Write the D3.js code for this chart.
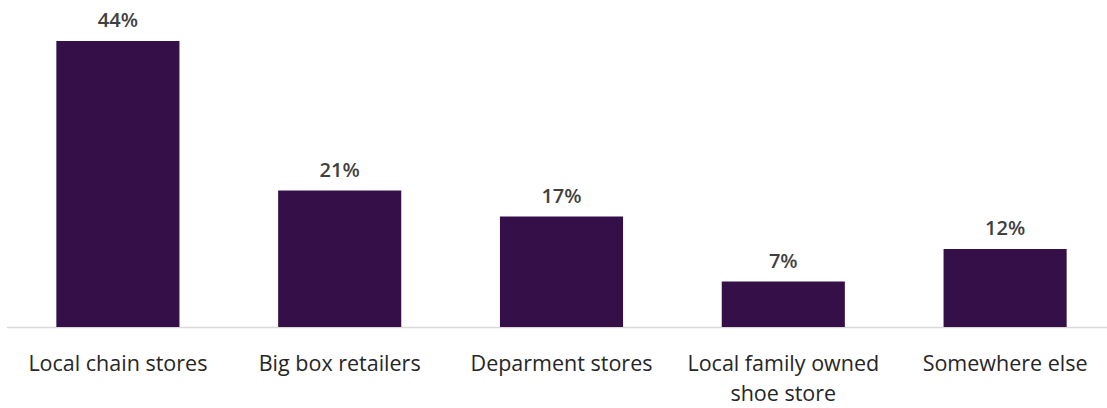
<!DOCTYPE html>
<html>
<head>
<meta charset="utf-8">
<script src="https://cdn.jsdelivr.net/npm/d3@7"></script>
<style>
  html, body { margin: 0; padding: 0; background: #fff; }
  svg { display: block; }
</style>
</head>
<body>
<svg id="chart" width="1107" height="408"></svg>
<script>
// Where shoppers bought their shoes
const categories = [
  ["Local chain stores"],
  ["Big box retailers"],
  ["Deparment stores"],
  ["Local family owned", "shoe store"],
  ["Somewhere else"]
];
const values = [44, 21, 17, 7, 12];
const valueLabels = ["44%", "21%", "17%", "7%", "12%"];

const W = 1107, H = 408;
const baseY = 327;
const barColor = "#350f47";
const font = "'Open Sans', Lato, sans-serif";

const svg = d3.select("#chart");
const keys = categories.map((c, i) => i);

const x = d3.scaleBand()
  .domain(keys)
  .range([7, 1116])
  .paddingInner(0.445)
  .paddingOuter(0.2225);

const y = d3.scaleLinear()
  .domain([0, 44])
  .range([baseY, 41]);

// baseline axis
svg.append("line")
  .attr("x1", 7).attr("x2", W)
  .attr("y1", baseY + 0.5).attr("y2", baseY + 0.5)
  .attr("stroke", "#d9d9d9").attr("stroke-width", 1.5);

// bars
svg.selectAll("rect.bar")
  .data(values)
  .join("rect")
  .attr("class", "bar")
  .attr("x", (d, i) => x(i))
  .attr("width", x.bandwidth())
  .attr("y", d => y(d))
  .attr("height", d => baseY - y(d))
  .attr("fill", barColor);

// value labels
svg.selectAll("text.val")
  .data(values)
  .join("text")
  .attr("class", "val")
  .attr("x", (d, i) => x(i) + x.bandwidth() / 2)
  .attr("y", d => y(d) - 14)
  .attr("text-anchor", "middle")
  .attr("font-family", font)
  .attr("font-weight", 600)
  .attr("font-size", 20)
  .attr("fill", "#404040")
  .text((d, i) => valueLabels[i]);

// category labels
const cat = svg.selectAll("text.cat")
  .data(categories)
  .join("text")
  .attr("class", "cat")
  .attr("x", (d, i) => x(i) + x.bandwidth() / 2)
  .attr("y", 371)
  .attr("text-anchor", "middle")
  .attr("font-family", font)
  .attr("font-size", 21.5)
  .attr("fill", "#262626");

cat.selectAll("tspan")
  .data((d, i) => d.map(t => ({ t, i })))
  .join("tspan")
  .attr("x", d => x(d.i) + x.bandwidth() / 2)
  .attr("dy", (d, j) => j === 0 ? 0 : 29.5)
  .text(d => d.t);
</script>
</body>
</html>
